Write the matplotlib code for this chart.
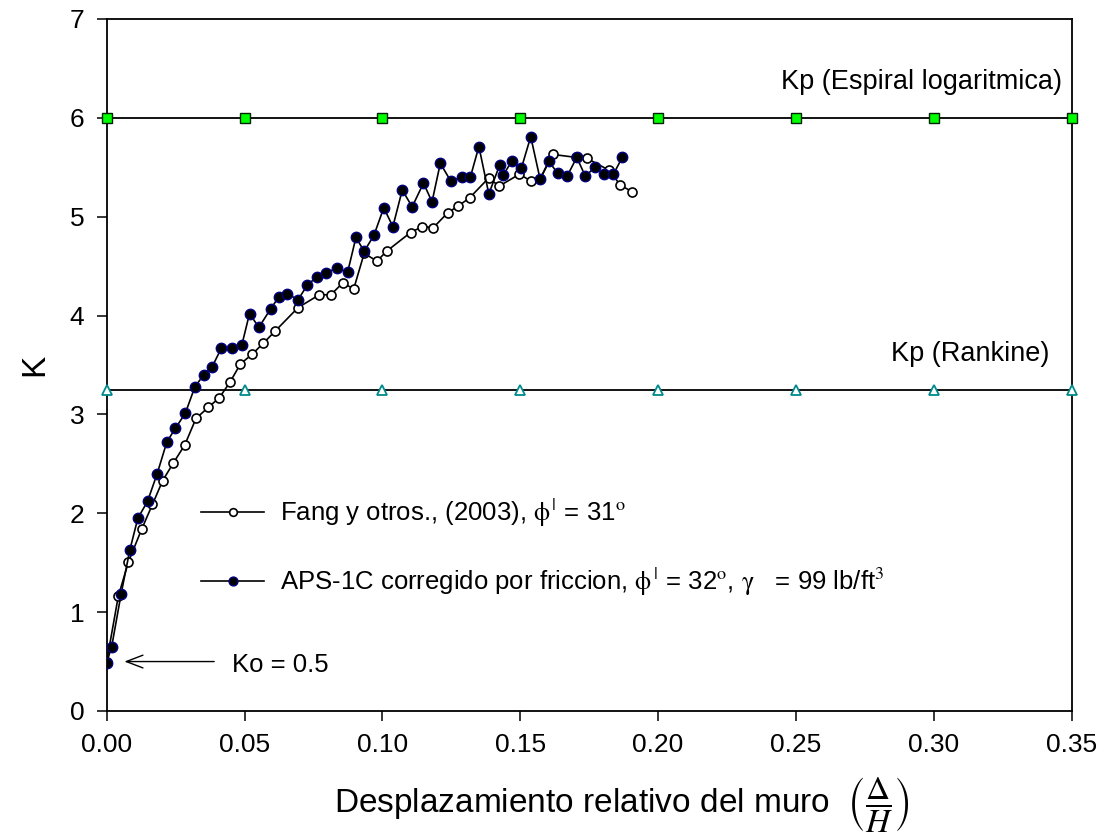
import numpy as np
import matplotlib
matplotlib.use('Agg')
import matplotlib.pyplot as plt

plt.rcParams['font.family'] = ['Liberation Sans', 'DejaVu Sans']
plt.rcParams['mathtext.fontset'] = 'stix'

# Fang y otros (2003), phi = 31
fang_x = [0.0000, 0.0042, 0.0079, 0.0127, 0.0166, 0.0203, 0.0242, 0.0283, 0.0324, 0.0368,
          0.0409, 0.0448, 0.0485, 0.0528, 0.0568, 0.0610, 0.0694, 0.0771, 0.0813, 0.0856,
          0.0896, 0.0934, 0.0980, 0.1015, 0.1102, 0.1145, 0.1185, 0.1237, 0.1276, 0.1316,
          0.1385, 0.1424, 0.1497, 0.1539, 0.1572, 0.1618, 0.1702, 0.1742, 0.1822, 0.1863,
          0.1907]
fang_k = [0.50, 1.16, 1.51, 1.84, 2.09, 2.33, 2.51, 2.69, 2.96, 3.07,
          3.17, 3.33, 3.51, 3.61, 3.72, 3.84, 4.08, 4.21, 4.21, 4.33,
          4.27, 4.63, 4.55, 4.65, 4.84, 4.90, 4.89, 5.04, 5.11, 5.19,
          5.39, 5.31, 5.43, 5.36, 5.38, 5.63, 5.60, 5.59, 5.47, 5.32,
          5.25]

# APS-1C corregido por friccion, phi = 32
aps_x = [0.0000, 0.0018, 0.0052, 0.0084, 0.0113, 0.0148, 0.0183, 0.0218, 0.0249, 0.0285,
         0.0320, 0.0352, 0.0382, 0.0416, 0.0453, 0.0490, 0.0518, 0.0552, 0.0595, 0.0625,
         0.0655, 0.0694, 0.0728, 0.0762, 0.0795, 0.0834, 0.0874, 0.0904, 0.0934, 0.0969,
         0.1005, 0.1038, 0.1072, 0.1108, 0.1149, 0.1180, 0.1210, 0.1248, 0.1287, 0.1319,
         0.1350, 0.1386, 0.1425, 0.1438, 0.1469, 0.1504, 0.1538, 0.1572, 0.1603, 0.1636,
         0.1670, 0.1705, 0.1736, 0.1771, 0.1802, 0.1838, 0.1870]
aps_k = [0.49, 0.65, 1.18, 1.63, 1.95, 2.12, 2.40, 2.72, 2.86, 3.01,
         3.28, 3.40, 3.48, 3.67, 3.67, 3.70, 4.02, 3.88, 4.07, 4.19,
         4.22, 4.16, 4.31, 4.39, 4.43, 4.48, 4.44, 4.79, 4.65, 4.81,
         5.09, 4.90, 5.27, 5.10, 5.34, 5.15, 5.54, 5.36, 5.40, 5.40,
         5.71, 5.23, 5.52, 5.42, 5.56, 5.49, 5.81, 5.38, 5.56, 5.44,
         5.41, 5.60, 5.41, 5.50, 5.43, 5.43, 5.60]

ref_x = [0.00, 0.05, 0.10, 0.15, 0.20, 0.25, 0.30, 0.35]
kp_espiral = 6.0
kp_rankine = 3.25
ko = 0.5

fig = plt.figure(figsize=(11.08, 8.4), dpi=100)
ax = fig.add_axes([0.0963, 0.1536, 0.8709, 0.8238])

ax.plot(ref_x, [kp_espiral] * len(ref_x), color='black', lw=1.3, marker='s', ms=6.5,
        mfc='#00ff00', mec='#002200', mew=1.0, clip_on=False, zorder=3)
ax.plot(ref_x, [kp_rankine] * len(ref_x), color='black', lw=1.3, marker='^', ms=7.5,
        mfc='white', mec='#008b8b', mew=1.3, clip_on=False, zorder=3)

lab1 = r'Fang y otros., (2003), $\mathrm{\phi}^{\,|}$ = 31$^{\mathrm{o}}$'
lab2 = (r'APS-1C corregido por friccion, $\mathrm{\phi}^{\,|}$ = 32$^{\mathrm{o}}$, '
        r'$\mathrm{\gamma}$   = 99 lb/ft$^{\mathrm{3}}$')
ax.plot(fang_x, fang_k, color='black', lw=1.2, marker='o', ms=6.5, mfc='white',
        mec='black', mew=1.2, label=lab1, zorder=4)
ax.plot(aps_x, aps_k, color='black', lw=1.2, marker='o', ms=7.5, mfc='black',
        mec='#000080', mew=1.0, label=lab2, zorder=5)

ax.set_xlim(0, 0.35)
ax.set_ylim(0, 7)
ax.set_xticks(ref_x)
ax.set_xticklabels(['%.2f' % v for v in ref_x])
ax.set_yticks(range(8))
ax.tick_params(direction='out', length=7, width=1.1, labelsize=19, pad=9)
for s in ax.spines.values():
    s.set_linewidth(1.3)

ax.set_xlabel(r'Desplazamiento relativo del muro  $\left(\dfrac{\Delta}{H}\right)$', fontsize=24)
ax.xaxis.set_label_coords(0.534, -0.093)
ax.set_ylabel('K', fontsize=24, labelpad=14)

ax.text(0.3464, kp_espiral + 0.36, 'Kp (Espiral logaritmica)', ha='right', va='center', fontsize=19.5)
ax.text(0.3420, kp_rankine + 0.36, 'Kp (Rankine)', ha='right', va='center', fontsize=19.5)

ax.annotate('', xy=(0.0064, ko), xytext=(0.039, ko),
            arrowprops=dict(arrowstyle='->,head_length=0.6,head_width=0.23', lw=1.0,
                            color='black', mutation_scale=20, shrinkA=0, shrinkB=0))
ax.text(0.0453, ko - 0.03, 'Ko = 0.5', ha='left', va='center', fontsize=18.5)

ax.legend(loc='upper left', bbox_to_anchor=(0.0343, 2.17), bbox_transform=ax.transData,
          frameon=False, fontsize=18.5, handlelength=2.45, handletextpad=0.6,
          labelspacing=1.45, borderpad=0, borderaxespad=0, numpoints=1, markerscale=0.85)

fig.savefig('out.png', dpi=100)
